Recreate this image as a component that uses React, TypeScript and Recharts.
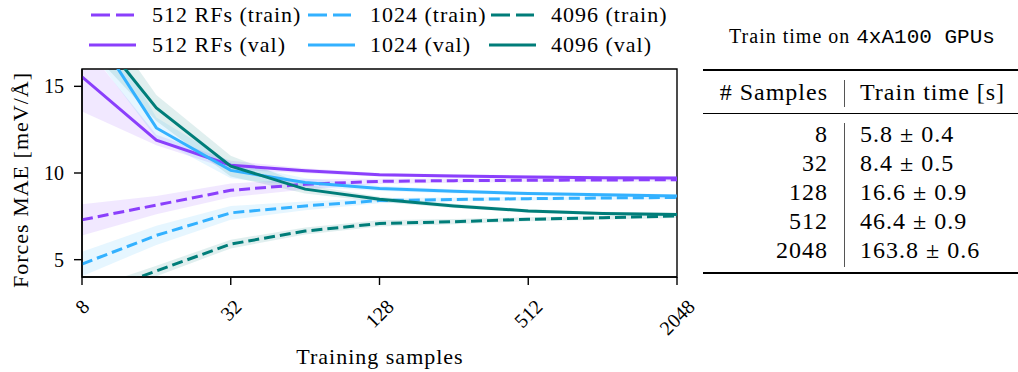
import React from 'react';
import { ComposedChart, Line, Area, XAxis, YAxis, ReferenceArea } from 'recharts';

const samples = [8, 16, 32, 64, 128, 256, 512, 1024, 2048];
const xTicks = [8, 32, 128, 512, 2048];
const yTicks = [5, 10, 15];

const rf512Train = [7.3, 8.15, 9.0, 9.35, 9.52, 9.56, 9.58, 9.6, 9.61];
const rf512TrainStd = [0.9, 0.53, 0.4, 0.3, 0.15, 0.12, 0.1, 0.1, 0.1];
const rf512Val = [15.55, 11.9, 10.45, 10.13, 9.9, 9.83, 9.77, 9.73, 9.71];
const rf512ValStd = [2.0, 0.3, 0.25, 0.15, 0.1, 0.1, 0.1, 0.1, 0.1];

const rf1024Train = [4.75, 6.4, 7.7, 8.1, 8.41, 8.47, 8.52, 8.56, 8.59];
const rf1024TrainStd = [0.7, 0.55, 0.4, 0.25, 0.15, 0.12, 0.1, 0.1, 0.1];
const rf1024Val = [19.2, 12.6, 10.15, 9.45, 9.11, 8.94, 8.82, 8.74, 8.68];
const rf1024ValStd = [1.5, 0.6, 0.45, 0.25, 0.15, 0.12, 0.1, 0.1, 0.1];

const rf4096Train = [2.8, 4.35, 5.9, 6.65, 7.09, 7.19, 7.33, 7.42, 7.52];
const rf4096TrainStd = [0.4, 0.3, 0.25, 0.2, 0.18, 0.15, 0.12, 0.12, 0.12];
const rf4096Val = [19.1, 13.75, 10.4, 9.07, 8.48, 8.1, 7.81, 7.67, 7.6];
const rf4096ValStd = [1.5, 0.75, 0.6, 0.25, 0.15, 0.12, 0.1, 0.1, 0.1];

const tableSamples = ['8', '32', '128', '512', '2048'];
const tableTimes = ['5.8 ± 0.4', '8.4 ± 0.5', '16.6 ± 0.9', '46.4 ± 0.9', '163.8 ± 0.6'];

const PURPLE = '#8a3ffc';
const BLUE = '#33b1ff';
const TEAL = '#007d79';

const rows = samples.map((s, i) => ({
  s,
  rfTrain: rf512Train[i],
  rfTrainBand: [rf512Train[i] - rf512TrainStd[i], rf512Train[i] + rf512TrainStd[i]],
  rfVal: rf512Val[i],
  rfValBand: [rf512Val[i] - rf512ValStd[i], rf512Val[i] + rf512ValStd[i]],
  k1Train: rf1024Train[i],
  k1TrainBand: [rf1024Train[i] - rf1024TrainStd[i], rf1024Train[i] + rf1024TrainStd[i]],
  k1Val: rf1024Val[i],
  k1ValBand: [rf1024Val[i] - rf1024ValStd[i], rf1024Val[i] + rf1024ValStd[i]],
  k4Train: rf4096Train[i],
  k4TrainBand: [rf4096Train[i] - rf4096TrainStd[i], rf4096Train[i] + rf4096TrainStd[i]],
  k4Val: rf4096Val[i],
  k4ValBand: [rf4096Val[i] - rf4096ValStd[i], rf4096Val[i] + rf4096ValStd[i]],
}));

const SERIF = "'Liberation Serif', 'Times New Roman', serif";
const MONO = "'Liberation Mono', 'DejaVu Sans Mono', monospace";

const XTick = (props: any) => {
  const { x, y, payload } = props;
  const label = String(payload.value);
  const w = label.length * 10;
  const h = (w + 14) * 0.707;
  const cy = y + 11 + h / 2;
  return (
    <text
      x={0}
      y={0}
      transform={`translate(${x},${cy}) rotate(-45)`}
      textAnchor="middle"
      dominantBaseline="central"
      fontFamily={SERIF}
      fontSize={20}
      fill="#000"
    >
      {label}
    </text>
  );
};

const legendItems = [
  { label: '512 RFs (train)', color: PURPLE, dashed: true, x: 91, tx: 152, y: 15 },
  { label: '1024 (train)', color: BLUE, dashed: true, x: 308, tx: 370, y: 15 },
  { label: '4096 (train)', color: TEAL, dashed: true, x: 491, tx: 551, y: 15 },
  { label: '512 RFs (val)', color: PURPLE, dashed: false, x: 89, tx: 152, y: 45 },
  { label: '1024 (val)', color: BLUE, dashed: false, x: 308, tx: 370, y: 45 },
  { label: '4096 (val)', color: TEAL, dashed: false, x: 489, tx: 551, y: 45 },
];

const textBase: React.CSSProperties = {
  position: 'absolute',
  fontFamily: SERIF,
  color: '#000',
  whiteSpace: 'nowrap',
};

export default function App() {
  const bands = [
    { key: 'rfValBand', c: PURPLE },
    { key: 'rfTrainBand', c: PURPLE },
    { key: 'k1ValBand', c: BLUE },
    { key: 'k1TrainBand', c: BLUE },
    { key: 'k4ValBand', c: TEAL },
    { key: 'k4TrainBand', c: TEAL },
  ];
  const rowCenters = [134, 163, 192, 221, 250];
  return (
    <div style={{ position: 'absolute', left: 0, top: 0, width: 1018, height: 372, background: '#fff', overflow: 'hidden' }}>
      <div style={{ position: 'absolute', left: 0, top: 0 }}>
        <ComposedChart width={700} height={372} data={rows} margin={{ top: 69, right: 23, left: 0, bottom: 0 }}>
          <XAxis
            dataKey="s"
            type="number"
            scale="log"
            domain={[8, 2048]}
            ticks={xTicks}
            height={95}
            tick={<XTick />}
            tickSize={8}
            tickMargin={2}
            axisLine={{ stroke: '#000', strokeWidth: 1.4 }}
            tickLine={{ stroke: '#000', strokeWidth: 1.4 }}
            allowDataOverflow
            interval={0}
          />
          <YAxis
            type="number"
            domain={[4, 16]}
            ticks={yTicks}
            width={82}
            allowDataOverflow
            tickSize={8}
            tickMargin={10}
            tick={{ fontFamily: SERIF, fontSize: 20, fill: '#000' }}
            axisLine={{ stroke: '#000', strokeWidth: 1.4 }}
            tickLine={{ stroke: '#000', strokeWidth: 1.4 }}
          />
          {bands.map((b) => (
            <Area
              key={b.key}
              type="linear"
              dataKey={b.key}
              stroke="none"
              fill={b.c}
              fillOpacity={0.12}
              isAnimationActive={false}
              activeDot={false}
            />
          ))}
          <Line type="linear" dataKey="rfTrain" stroke={PURPLE} strokeWidth={3} strokeDasharray="11 5" dot={false} isAnimationActive={false} />
          <Line type="linear" dataKey="k1Train" stroke={BLUE} strokeWidth={3} strokeDasharray="11 5" dot={false} isAnimationActive={false} />
          <Line type="linear" dataKey="k4Train" stroke={TEAL} strokeWidth={3} strokeDasharray="11 5" dot={false} isAnimationActive={false} />
          <Line type="linear" dataKey="rfVal" stroke={PURPLE} strokeWidth={3} dot={false} isAnimationActive={false} />
          <Line type="linear" dataKey="k1Val" stroke={BLUE} strokeWidth={3} dot={false} isAnimationActive={false} />
          <Line type="linear" dataKey="k4Val" stroke={TEAL} strokeWidth={3} dot={false} isAnimationActive={false} />
          <ReferenceArea x1={8} x2={2048} y1={4} y2={16} fill="none" stroke="#000" strokeWidth={1.4} fillOpacity={0} ifOverflow="visible" />
        </ComposedChart>
      </div>

      {/* Legend */}
      {legendItems.map((it) => (
        <React.Fragment key={it.label}>
          <svg style={{ position: 'absolute', left: it.x, top: it.y - 3 }} width={48} height={6}>
            <line
              x1={0}
              y1={3}
              x2={it.dashed ? 43 : 47}
              y2={3}
              stroke={it.color}
              strokeWidth={3.2}
              strokeDasharray={it.dashed ? '19 6' : undefined}
            />
          </svg>
          <div style={{ ...textBase, left: it.tx, top: it.y - 14, fontSize: 22, lineHeight: '28px', letterSpacing: '1px' }}>{it.label}</div>
        </React.Fragment>
      ))}

      {/* Axis labels */}
      <div
        style={{
          ...textBase,
          left: 21,
          top: 180,
          fontSize: 22,
          letterSpacing: '1px',
          lineHeight: '26px',
          transform: 'translate(-50%, -50%) rotate(-90deg)',
        }}
      >
        Forces MAE [meV/Å]
      </div>
      <div style={{ ...textBase, left: 380, top: 357, fontSize: 22, letterSpacing: '1px', lineHeight: '26px', transform: 'translate(-50%, -50%)' }}>
        Training samples
      </div>

      {/* Table */}
      <div style={{ ...textBase, left: 862, top: 37, fontSize: 20, lineHeight: '26px', transform: 'translate(-50%, -50%)' }}>
        <span style={{ letterSpacing: '1px' }}>Train time on </span>
        <span style={{ fontFamily: MONO, fontSize: 21 }}>4xA100 GPUs</span>
      </div>
      <div style={{ position: 'absolute', left: 703, top: 69, width: 315, height: 2, background: '#000' }} />
      <div style={{ ...textBase, right: 1018 - 828, top: 92 - 15, fontSize: 24, lineHeight: '30px', letterSpacing: '1px' }}># Samples</div>
      <div style={{ ...textBase, left: 860, top: 92 - 15, fontSize: 24, lineHeight: '30px', letterSpacing: '1px' }}>Train time [s]</div>
      <div style={{ position: 'absolute', left: 844, top: 80, width: 1, height: 27, background: '#555' }} />
      <div style={{ position: 'absolute', left: 703, top: 113, width: 315, height: 1, background: '#000' }} />
      <div style={{ position: 'absolute', left: 844, top: 123, width: 1, height: 144, background: '#555' }} />
      {tableSamples.map((s, i) => (
        <React.Fragment key={s}>
          <div style={{ ...textBase, right: 1018 - 828, top: rowCenters[i] - 15, fontSize: 24, lineHeight: '30px', letterSpacing: '1px' }}>{s}</div>
          <div style={{ ...textBase, left: 860, top: rowCenters[i] - 15, fontSize: 24, lineHeight: '30px', letterSpacing: '1px' }}>{tableTimes[i]}</div>
        </React.Fragment>
      ))}
      <div style={{ position: 'absolute', left: 703, top: 272, width: 315, height: 2, background: '#000' }} />
    </div>
  );
}
